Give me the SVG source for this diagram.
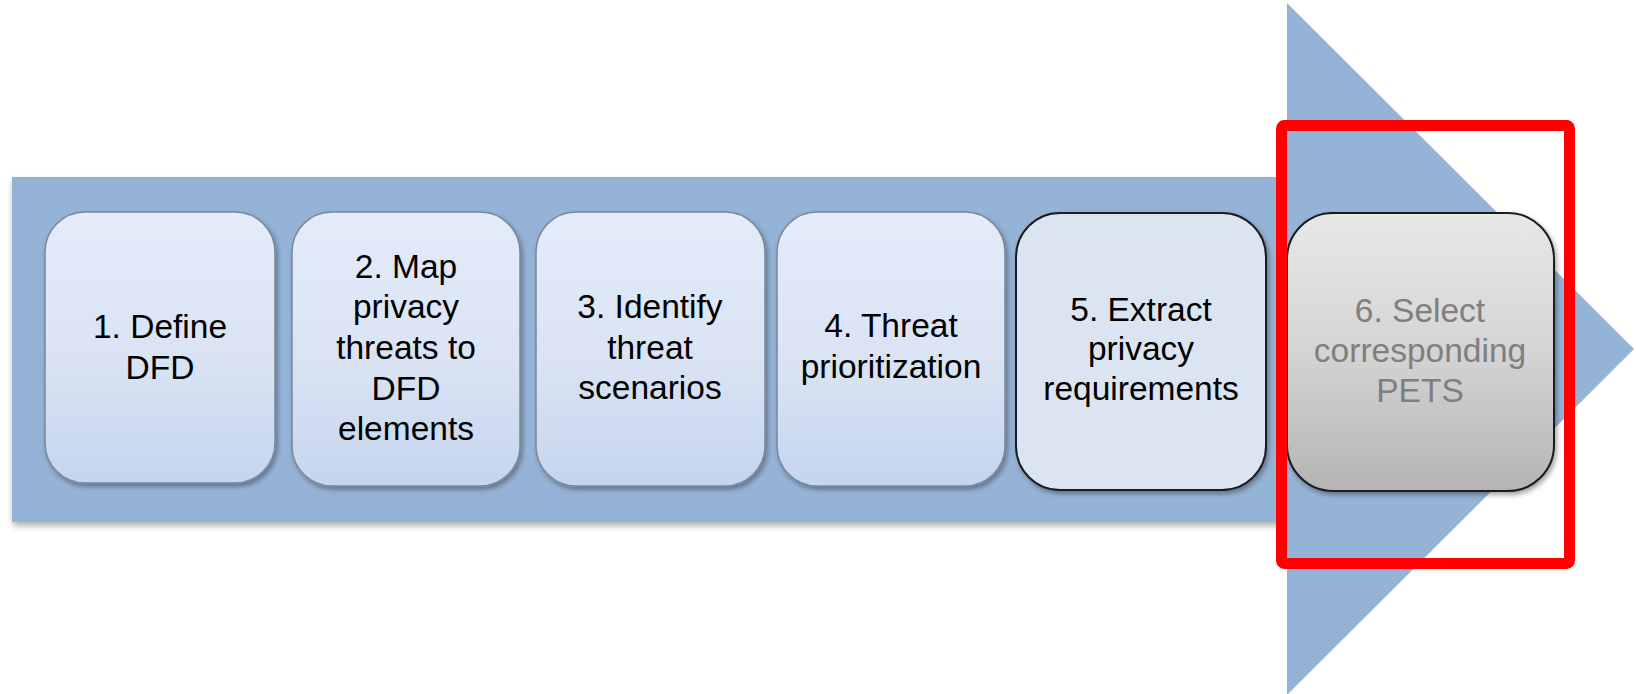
<svg xmlns="http://www.w3.org/2000/svg" width="1636" height="694" viewBox="0 0 1636 694">
  <defs>
    <linearGradient id="gBlue" x1="0" y1="0" x2="0" y2="1">
      <stop offset="0" stop-color="#E4ECFA"/>
      <stop offset="0.55" stop-color="#D9E3F3"/>
      <stop offset="1" stop-color="#C5D5EE"/>
    </linearGradient>
    <linearGradient id="gGrey" x1="0" y1="0" x2="0" y2="1">
      <stop offset="0" stop-color="#E8E8E8"/>
      <stop offset="0.5" stop-color="#D4D4D4"/>
      <stop offset="1" stop-color="#B4B4B4"/>
    </linearGradient>
    <filter id="shadow" x="-10%" y="-10%" width="125%" height="125%">
      <feDropShadow dx="2" dy="3" stdDeviation="2.5" flood-color="#000" flood-opacity="0.35"/>
    </filter>
    <filter id="shaftShadow" x="-5%" y="-5%" width="110%" height="115%">
      <feDropShadow dx="1" dy="4" stdDeviation="3" flood-color="#000" flood-opacity="0.3"/>
    </filter>
  </defs>
  <style>
    .step { fill: url(#gBlue); stroke: #7C8797; stroke-width: 1.5; filter: url(#shadow); }
    .step5 { fill: #DBE5F1; stroke: #1A1A1A; stroke-width: 2; filter: url(#shadow); }
    .step6 { fill: url(#gGrey); stroke: #1A1A1A; stroke-width: 2; filter: url(#shadow); }
    .lbl { font-family: "Liberation Sans", Arial, sans-serif; font-size: 33.5px; fill: #000; text-anchor: middle; }
    .lbl6 { fill: #7F7F7F; }
  </style>
  <rect width="1636" height="694" fill="#FFFFFF"/>
  <g id="arrow">
    <rect x="12" y="177" width="1276" height="345" fill="#95B3D7" filter="url(#shaftShadow)"/>
    <polygon points="1287,3 1634,349 1287,695" fill="#95B3D7"/>
  </g>
  <g id="connectors"></g>
  <g id="step1">
    <rect class="step" x="45" y="212" width="230" height="271" rx="40" ry="40"/>
    <text class="lbl" x="160" y="338">1. Define</text>
    <text class="lbl" x="160" y="379">DFD</text>
  </g>
  <g id="step2">
    <rect class="step" x="292" y="212" width="228" height="274" rx="40" ry="40"/>
    <text class="lbl" x="406" y="278">2. Map</text>
    <text class="lbl" x="406" y="318">privacy</text>
    <text class="lbl" x="406" y="359">threats to</text>
    <text class="lbl" x="406" y="400">DFD</text>
    <text class="lbl" x="406" y="440">elements</text>
  </g>
  <g id="step3">
    <rect class="step" x="536" y="212" width="229" height="274" rx="40" ry="40"/>
    <text class="lbl" x="650" y="318">3. Identify</text>
    <text class="lbl" x="650" y="359">threat</text>
    <text class="lbl" x="650" y="399">scenarios</text>
  </g>
  <g id="step4">
    <rect class="step" x="777" y="212" width="228" height="274" rx="40" ry="40"/>
    <text class="lbl" x="891" y="337">4. Threat</text>
    <text class="lbl" x="891" y="378">prioritization</text>
  </g>
  <g id="step5">
    <rect class="step5" x="1016" y="213" width="250" height="277" rx="44" ry="44"/>
    <text class="lbl" x="1141" y="321">5. Extract</text>
    <text class="lbl" x="1141" y="360">privacy</text>
    <text class="lbl" x="1141" y="400">requirements</text>
  </g>
  <g id="step6">
    <rect class="step6" x="1287" y="213" width="267" height="278" rx="46" ry="46"/>
    <text class="lbl lbl6" x="1420" y="322">6. Select</text>
    <text class="lbl lbl6" x="1420" y="362">corresponding</text>
    <text class="lbl lbl6" x="1420" y="402">PETS</text>
  </g>
  <g id="highlight">
    <rect x="1281.5" y="125.5" width="288" height="438" rx="3" ry="3" fill="none" stroke="#FF0000" stroke-width="11"/>
  </g>
</svg>
